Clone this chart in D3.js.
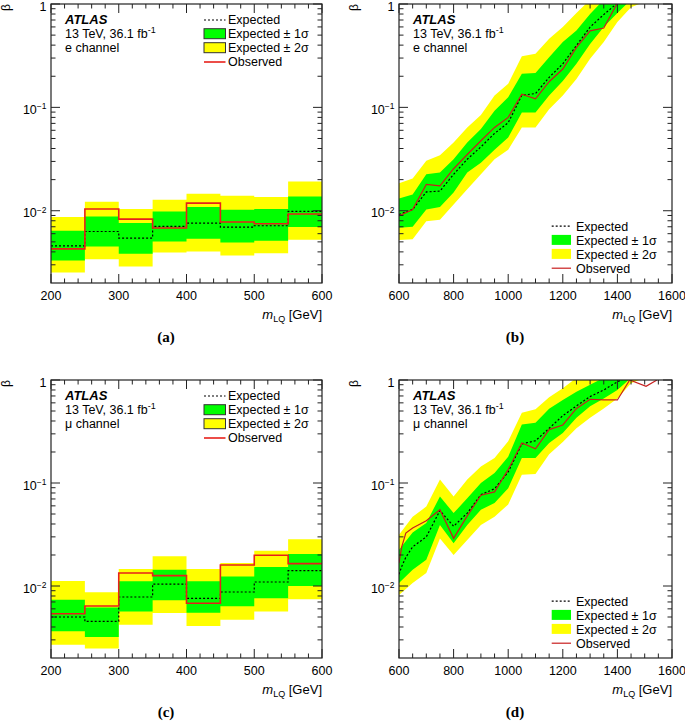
<!DOCTYPE html>
<html><head><meta charset="utf-8">
<script src="https://cdn.jsdelivr.net/npm/d3@7"></script>
<style>
body{margin:0;background:#fff}
svg{display:block}
text{font-family:"Liberation Sans",Arial,Helvetica,sans-serif;fill:#000}
</style>
</head><body>
<svg id="chart" width="685" height="722"></svg>
<script>
// ---------------- DATA ----------------
// Low-mass panels (a: e channel, c: mu channel): 8 bins of 50 GeV
const binEdges = [200, 250, 300, 350, 400, 450, 500, 550, 600];
const aExp = [0.00458, 0.0063, 0.00544, 0.00706, 0.0076, 0.00695, 0.00716, 0.00986];
const aObs = [0.00428, 0.0104, 0.0083, 0.0068, 0.01186, 0.00777, 0.00749, 0.0093];
const a1Up = [0.0064, 0.0088, 0.0076, 0.00986, 0.01084, 0.0102, 0.01038, 0.01377];
const a1Dn = [0.00331, 0.00452, 0.00384, 0.00505, 0.00536, 0.00494, 0.00513, 0.00695];
const a2Up = [0.00868, 0.0122, 0.0104, 0.01277, 0.0146, 0.01397, 0.01355, 0.0192];
const a2Dn = [0.00253, 0.0034, 0.00289, 0.00395, 0.00403, 0.0037, 0.00389, 0.00524];

const cExp = [0.0050, 0.00454, 0.00782, 0.01045, 0.00759, 0.00875, 0.01094, 0.0141];
const cObs = [0.00538, 0.0064, 0.01337, 0.0126, 0.00679, 0.016, 0.01986, 0.0165];
const c1Up = [0.00736, 0.0062, 0.0111, 0.0144, 0.0111, 0.0124, 0.01527, 0.0205];
const c1Dn = [0.00363, 0.0032, 0.00567, 0.00726, 0.00551, 0.00635, 0.00759, 0.0100];
const c2Up = [0.0112, 0.0087, 0.0146, 0.0194, 0.0146, 0.0167, 0.0220, 0.0284];
const c2Dn = [0.00269, 0.00247, 0.00421, 0.00547, 0.00409, 0.00471, 0.00564, 0.00743];

// High-mass panels (b: e channel, d: mu channel)
const bandMass = [600, 650, 700, 750, 800, 850, 900, 950, 1000, 1050, 1100, 1150, 1200, 1250, 1300, 1350, 1400, 1450, 1500];
const b2Up = [0.0184, 0.0205, 0.0304, 0.0345, 0.0457, 0.064, 0.0843, 0.13, 0.169, 0.313, 0.33, 0.46, 0.6, 0.82, 1.1, 1.5, 1.8, 2.1, 2.4];
const b1Up = [0.0131, 0.0144, 0.0225, 0.0234, 0.0315, 0.0457, 0.0616, 0.093, 0.125, 0.211, 0.215, 0.305, 0.428, 0.555, 0.8, 1.1, 1.4, 1.7, 2.0];
const b1Dn = [0.00684, 0.0070, 0.0103, 0.0109, 0.0150, 0.0234, 0.0292, 0.039, 0.0511, 0.089, 0.089, 0.13, 0.18, 0.264, 0.41, 0.6, 0.82, 1.1, 1.4];
const b2Dn = [0.0052, 0.0053, 0.0079, 0.0082, 0.0115, 0.0161, 0.0225, 0.0315, 0.039, 0.064, 0.064, 0.096, 0.13, 0.188, 0.295, 0.43, 0.67, 0.93, 1.05];

const bLineMass = [600, 650, 700, 750, 800, 850, 900, 950, 1000, 1050, 1100, 1150, 1200, 1250, 1300, 1350, 1400];
const bExp = [0.0092, 0.0103, 0.0152, 0.0155, 0.0225, 0.0315, 0.0415, 0.056, 0.071, 0.131, 0.136, 0.195, 0.264, 0.397, 0.598, 0.79, 1.02];
const bObs = [0.0089, 0.0103, 0.018, 0.0174, 0.0255, 0.035, 0.0475, 0.064, 0.08, 0.134, 0.121, 0.177, 0.235, 0.38, 0.55, 0.585, 1.02];

const d2Up = [0.0315, 0.047, 0.059, 0.108, 0.074, 0.108, 0.145, 0.175, 0.254, 0.48, 0.52, 0.68, 0.83, 1.05, 1.3, 1.5, 1.8, 2.1, 2.4];
const d1Up = [0.0225, 0.033, 0.041, 0.074, 0.051, 0.071, 0.1, 0.125, 0.18, 0.37, 0.385, 0.525, 0.64, 0.77, 0.9, 1.05, 1.3, 1.5, 1.7];
const d1Dn = [0.0107, 0.0144, 0.018, 0.039, 0.026, 0.039, 0.055, 0.064, 0.089, 0.175, 0.175, 0.244, 0.305, 0.43, 0.555, 0.66, 0.8, 1.05, 1.2];
const d2Dn = [0.0082, 0.0107, 0.0134, 0.029, 0.020, 0.028, 0.039, 0.047, 0.062, 0.12, 0.122, 0.19, 0.25, 0.34, 0.43, 0.53, 0.66, 0.93, 1.05];

const dLineMass = [600, 610, 625, 650, 700, 750, 800, 850, 900, 950, 1000, 1050, 1100, 1150, 1200, 1250, 1300, 1350, 1400, 1445, 1505, 1545];
const dExp = [0.013, 0.0155, 0.019, 0.024, 0.030, 0.054, 0.038, 0.051, 0.077, 0.088, 0.128, 0.24, 0.257, 0.34, 0.45, 0.56, 0.69, 0.8, 0.96, 1.1, null, null];
const dObs = [0.0167, 0.024, 0.0326, 0.0365, 0.043, 0.055, 0.029, 0.048, 0.076, 0.082, 0.135, 0.245, 0.215, 0.33, 0.366, 0.53, 0.65, 0.64, 0.64, 1.0, 0.87, 1.0];

const yDomain = [0.002, 1];
const lowTicks = [200, 300, 400, 500, 600];
const highTicks = [600, 800, 1000, 1200, 1400, 1600];
const yLabelVals = [1, 0.1, 0.01];
const legendLabels = ["Expected", "Expected \u00b1 1\u03c3", "Expected \u00b1 2\u03c3", "Observed"];

// ---------------- DRAW ----------------
const svg = d3.select("#chart");
svg.append("rect").attr("width", 685).attr("height", 722).attr("fill", "#fff");

const panels = [
  {id:"a", x0:51, x1:322, y0:4, y1:283, xdom:[200,600], ticks:lowTicks, minorStep:20, type:"step",
   exp:aExp, obs:aObs, s1u:a1Up, s1d:a1Dn, s2u:a2Up, s2d:a2Dn, channel:"e channel", label:"(a)", lx:166, ly:342},
  {id:"b", x0:399, x1:672, y0:4, y1:283, xdom:[600,1600], ticks:highTicks, minorStep:50, type:"curve",
   lineMass:bLineMass, exp:bExp, obs:bObs, s1u:b1Up, s1d:b1Dn, s2u:b2Up, s2d:b2Dn, channel:"e channel", label:"(b)", lx:515, ly:342},
  {id:"c", x0:51, x1:322, y0:380, y1:658, xdom:[200,600], ticks:lowTicks, minorStep:20, type:"step",
   exp:cExp, obs:cObs, s1u:c1Up, s1d:c1Dn, s2u:c2Up, s2d:c2Dn, channel:"\u03bc channel", label:"(c)", lx:166, ly:717},
  {id:"d", x0:399, x1:672, y0:380, y1:658, xdom:[600,1600], ticks:highTicks, minorStep:50, type:"curve",
   lineMass:dLineMass, exp:dExp, obs:dObs, s1u:d1Up, s1d:d1Dn, s2u:d2Up, s2d:d2Dn, channel:"\u03bc channel", label:"(d)", lx:515, ly:717}
];

const GREEN = "#00ff00", YELLOW = "#ffff00", FRAME = "#222";

panels.forEach(p => {
  const g = svg.append("g");
  const x = d3.scaleLinear().domain(p.xdom).range([p.x0, p.x1]);
  const y = d3.scaleLog().domain(yDomain).range([p.y1, p.y0]);
  const clipId = "clip-" + p.id;
  svg.append("clipPath").attr("id", clipId).append("rect")
    .attr("x", p.x0).attr("y", p.y0).attr("width", p.x1 - p.x0).attr("height", p.y1 - p.y0);
  const plot = g.append("g").attr("clip-path", `url(#${clipId})`);
  const red = p.type === "step" ? "#e8201a" : "#c81e1e";

  if (p.type === "step") {
    const n = p.exp.length;
    const idx = d3.range(n + 1);
    const v = (arr, i) => arr[Math.min(i, n - 1)];
    const area = (up, dn) => d3.area().curve(d3.curveStepAfter)
      .x(i => x(binEdges[i])).y0(i => y(v(dn, i))).y1(i => y(v(up, i)));
    const line = arr => d3.line().curve(d3.curveStepAfter)
      .x(i => x(binEdges[i])).y(i => y(v(arr, i)));
    plot.append("path").datum(idx).attr("d", area(p.s2u, p.s2d)).attr("fill", YELLOW);
    plot.append("path").datum(idx).attr("d", area(p.s1u, p.s1d)).attr("fill", GREEN);
    plot.append("path").datum(idx).attr("d", line(p.exp)).attr("fill", "none")
      .attr("stroke", "#000").attr("stroke-width", 1.2).attr("stroke-dasharray", "2,2");
    plot.append("path").datum(idx).attr("d", line(p.obs)).attr("fill", "none")
      .attr("stroke", red).attr("stroke-width", 1.6);
  } else {
    const idx = d3.range(bandMass.length);
    const area = (up, dn) => d3.area().x(i => x(bandMass[i])).y0(i => y(dn[i])).y1(i => y(up[i]));
    plot.append("path").datum(idx).attr("d", area(p.s2u, p.s2d)).attr("fill", YELLOW);
    plot.append("path").datum(idx).attr("d", area(p.s1u, p.s1d)).attr("fill", GREEN);
    const li = d3.range(p.lineMass.length);
    const line = arr => d3.line().defined(i => arr[i] != null).x(i => x(p.lineMass[i])).y(i => y(arr[i]));
    plot.append("path").datum(li).attr("d", line(p.exp)).attr("fill", "none")
      .attr("stroke", "#000").attr("stroke-width", 1.2).attr("stroke-dasharray", "2,2");
    plot.append("path").datum(li).attr("d", line(p.obs)).attr("fill", "none")
      .attr("stroke", red).attr("stroke-width", 1.2);
  }

  // frame
  g.append("rect").attr("x", p.x0).attr("y", p.y0).attr("width", p.x1 - p.x0).attr("height", p.y1 - p.y0)
    .attr("fill", "none").attr("stroke", FRAME).attr("stroke-width", 1.2);

  // x ticks (bottom and top, inward)
  const xMinor = d3.range(p.xdom[0], p.xdom[1] + 0.1, p.minorStep);
  xMinor.forEach(m => {
    const isMajor = p.ticks.includes(m);
    const L = isMajor ? 9 : 4.5;
    const xx = x(m);
    g.append("line").attr("x1", xx).attr("x2", xx).attr("y1", p.y1).attr("y2", p.y1 - L)
      .attr("stroke", FRAME).attr("stroke-width", 1);
    g.append("line").attr("x1", xx).attr("x2", xx).attr("y1", p.y0).attr("y2", p.y0 + L)
      .attr("stroke", FRAME).attr("stroke-width", 1);
  });
  p.ticks.forEach(m => {
    g.append("text").attr("x", x(m)).attr("y", p.y1 + 16.5).attr("text-anchor", "middle")
      .attr("font-size", 12.5).text(m);
  });

  // y ticks (left and right, inward)
  for (let e = -3; e <= 0; e++) {
    for (let k = 1; k <= 9; k++) {
      const val = k * Math.pow(10, e);
      if (val <= yDomain[0] * 1.0001 || val > 1.0001) continue;
      const L = k === 1 ? 9 : 4.5;
      const yy = y(val);
      g.append("line").attr("x1", p.x0).attr("x2", p.x0 + L).attr("y1", yy).attr("y2", yy)
        .attr("stroke", FRAME).attr("stroke-width", 1);
      g.append("line").attr("x1", p.x1).attr("x2", p.x1 - L).attr("y1", yy).attr("y2", yy)
        .attr("stroke", FRAME).attr("stroke-width", 1);
    }
  }
  yLabelVals.forEach(val => {
    const t = g.append("text").attr("x", p.x0 - 4.5).attr("y", y(val) + 6.5)
      .attr("text-anchor", "end").attr("font-size", 12.5);
    if (val === 1) { t.text("1"); }
    else {
      const ex = Math.round(Math.log10(val));
      t.append("tspan").text("10");
      t.append("tspan").attr("font-size", 8.5).attr("dy", -4.5).text("\u2212" + (-ex));
    }
  });

  // axis titles
  g.append("text").attr("transform", `translate(${p.x0 - 41},${p.y0}) rotate(-90)`)
    .attr("text-anchor", "end").attr("font-size", 12).text("\u03b2");
  const xt = g.append("text").attr("x", p.x1).attr("y", p.y1 + 36).attr("text-anchor", "end").attr("font-size", 13);
  xt.append("tspan").attr("font-style", "italic").text("m");
  xt.append("tspan").attr("font-size", 9).attr("dy", 3).text("LQ");
  xt.append("tspan").attr("dy", -3).text(" [GeV]");

  // ATLAS label block
  const tx = p.x0 + 14;
  g.append("text").attr("x", tx).attr("y", p.y0 + 20.3).attr("font-size", 13)
    .attr("font-weight", "bold").attr("font-style", "italic").text("ATLAS");
  const l2 = g.append("text").attr("x", tx).attr("y", p.y0 + 33.8).attr("font-size", 12.5);
  l2.append("tspan").text("13 TeV, 36.1 fb");
  l2.append("tspan").attr("font-size", 9).attr("dy", -5).text("-1");
  g.append("text").attr("x", tx).attr("y", p.y0 + 47.8).attr("font-size", 12.5).text(p.channel);

  // legend
  let lx0, lx1, textX, base, bordered;
  if (p.type === "step") {
    lx0 = 204; lx1 = 225.5; textX = 228; bordered = true;
    base = [p.y0 + 20.3, p.y0 + 34.3, p.y0 + 48.3, p.y0 + 62.3];
  } else {
    lx0 = 551.7; lx1 = 571; textX = 576; bordered = false;
    base = [p.y1 - 52.5, p.y1 - 38.5, p.y1 - 24.5, p.y1 - 10.5];
  }
  const lg = g.append("g");
  lg.append("line").attr("x1", lx0).attr("x2", lx1).attr("y1", base[0] - 4.3).attr("y2", base[0] - 4.3)
    .attr("stroke", "#000").attr("stroke-width", 1.2).attr("stroke-dasharray", "2,2");
  [[GREEN, base[1]], [YELLOW, base[2]]].forEach(([col, b]) => {
    const r = lg.append("rect").attr("x", lx0).attr("y", b - 9.6).attr("width", lx1 - lx0).attr("height", 10)
      .attr("fill", col);
    if (bordered) r.attr("stroke", "#333").attr("stroke-width", 1);
  });
  lg.append("line").attr("x1", lx0).attr("x2", lx1).attr("y1", base[3] - 4.3).attr("y2", base[3] - 4.3)
    .attr("stroke", red).attr("stroke-width", p.type === "step" ? 1.6 : 1.2);
  legendLabels.forEach((s, i) => {
    lg.append("text").attr("x", textX).attr("y", base[i]).attr("font-size", 12.5).text(s);
  });

  // panel label
  svg.append("text").attr("x", p.lx).attr("y", p.ly).attr("text-anchor", "middle")
    .attr("font-size", 15).attr("font-weight", "bold")
    .style("font-family", "'Liberation Serif','Times New Roman',serif").text(p.label);
});
</script>
</body></html>
